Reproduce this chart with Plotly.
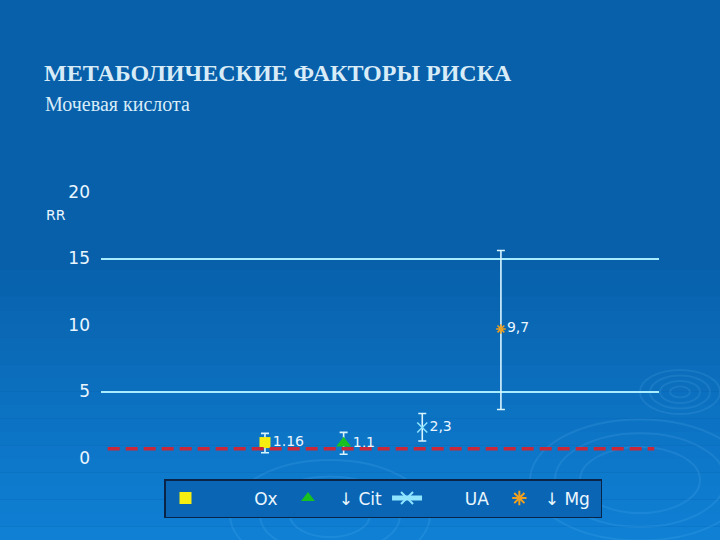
import plotly.graph_objects as go

# данные
factors = ["Ox", "↓ Cit", "UA", "↓ Mg"]
x_pos = [2, 3, 4, 5]
rr = [1.16, 1.1, 2.3, 9.7]
rr_hi = [1.85, 1.93, 3.35, 15.6]
rr_lo = [0.4, 0.28, 1.28, 3.65]
rr_text = ["1.16", "1,1", "2,3", "9,7"]
ref_x = [0, 6.95]
ref_y = [0.7, 0.7]
grid_vals = [5, 15]
y_ticks = [0, 5, 10, 15, 20]

bar_col = "#d8f4ff"
txt_col = "#eaf6ff"
font_sans = "DejaVu Sans"

styles = [
    dict(symbol="square", size=11, color="#f5ee10", line=dict(width=0)),
    dict(symbol="triangle-up", size=13, color="#18c020", line=dict(width=0)),
    dict(symbol="x-thin", size=10, color="#8fe4ff", line=dict(width=1.5, color="#8fe4ff")),
    dict(symbol="asterisk", size=8, color="#f0a020", line=dict(width=1.5, color="#f0a020")),
]
# отступы в подписях легенды (неразрывные пробелы: слева, справа)
pads = [(9, 1), (2, 0), (7, 1), (1, 1)]

fig = go.Figure()

for i in range(len(factors)):
    fig.add_trace(go.Scatter(
        x=[x_pos[i]], y=[rr[i]],
        mode="lines+markers+text" if i == 2 else "markers+text",
        name="\u00a0" * pads[i][0] + factors[i] + "\u00a0" * pads[i][1],
        marker=styles[i],
        line=dict(color="#8fe4ff", width=1.2),
        text=[rr_text[i]], textposition="middle right",
        textfont=dict(family=font_sans, size=14, color=txt_col),
        error_y=dict(type="data", symmetric=False,
                     array=[rr_hi[i] - rr[i]], arrayminus=[rr[i] - rr_lo[i]],
                     color=bar_col, thickness=1.6, width=4),
    ))

fig.add_trace(go.Scatter(
    x=ref_x, y=ref_y, mode="lines", showlegend=False, hoverinfo="skip",
    line=dict(color="#c8283a", width=3.5, dash="12px,6px"),
))

# фон: вертикальный градиент полосами
shapes = []
n = 40
top = (8, 96, 170)
bot = (16, 130, 215)
for k in range(n):
    p0 = 540 * k / n
    p1 = 540 * (k + 1) / n
    t = max(0.0, (p0 - 250) / 290)
    c = tuple(int(top[j] + (bot[j] - top[j]) * t) for j in range(3))
    shapes.append(dict(type="rect", xref="paper", yref="paper", layer="below",
                       x0=-0.2, x1=1.2,
                       y0=(458 - p1) / 266, y1=(458 - p0) / 266,
                       fillcolor="rgb(%d,%d,%d)" % c, line=dict(width=0)))
# круги-«волны»
for cx, cy, radii in [(680, 392, [10, 20, 30, 40]),
                      (640, 480, [60, 85, 110]),
                      (330, 515, [40, 70, 100])]:
    for r in radii:
        shapes.append(dict(type="circle", xref="paper", yref="paper", layer="below",
                           x0=(cx - r - 101) / 558, x1=(cx + r - 101) / 558,
                           y0=(458 - cy - r * 0.55) / 266, y1=(458 - cy + r * 0.55) / 266,
                           line=dict(color="rgba(120,200,255,0.13)", width=2)))

fig.update_layout(
    width=720, height=540,
    margin=dict(l=101, r=61, t=192, b=82),
    paper_bgcolor="#0860aa",
    plot_bgcolor="rgba(0,0,0,0)",
    shapes=shapes,
    title=dict(text="<b>МЕТАБОЛИЧЕСКИЕ ФАКТОРЫ РИСКА</b>",
               x=44 / 720, xanchor="left", y=1 - 73 / 540, yanchor="middle",
               font=dict(family="Liberation Serif", size=24, color="#d8ecf8")),
    annotations=[
        dict(text="Мочевая кислота", xref="paper", yref="paper",
             x=(43 - 101) / 558, y=(458 - 104) / 266, xanchor="left", yanchor="middle",
             showarrow=False, font=dict(family="Liberation Serif", size=20, color="#d8ecf8")),
        dict(text="RR", xref="paper", yref="paper",
             x=(44 - 101) / 558, y=(458 - 215) / 266, xanchor="left", yanchor="middle",
             showarrow=False, font=dict(family=font_sans, size=14, color=txt_col)),
    ],
    xaxis=dict(range=[-0.085, 7.01], showgrid=False, zeroline=False,
               showticklabels=False, showline=False),
    yaxis=dict(range=[0, 20], tickvals=y_ticks, showgrid=False, zeroline=False,
               showline=False, ticks="", ticklabelstandoff=10,
               tickfont=dict(family=font_sans, size=17, color=txt_col)),
    yaxis2=dict(range=[0, 20], overlaying="y", tickvals=grid_vals, showgrid=True,
                gridcolor="#a8ecff", gridwidth=1.5, showticklabels=False,
                zeroline=False, showline=False),
    showlegend=True,
    legend=dict(orientation="h", x=(164 - 101) / 558, y=(458 - 479) / 266,
                xanchor="left", yanchor="top",
                bgcolor="#0a66b4", bordercolor="#0a2448", borderwidth=1.5,
                font=dict(family=font_sans, size=17, color=txt_col),
                itemsizing="constant"),
)

# пустой след для второй оси, чтобы сетка отрисовалась
fig.add_trace(go.Scatter(x=[None], y=[None], yaxis="y2", showlegend=False, hoverinfo="skip"))

fig.write_html("out.html", config={"displayModeBar": False},
               post_script="document.body.style.margin='0';")
